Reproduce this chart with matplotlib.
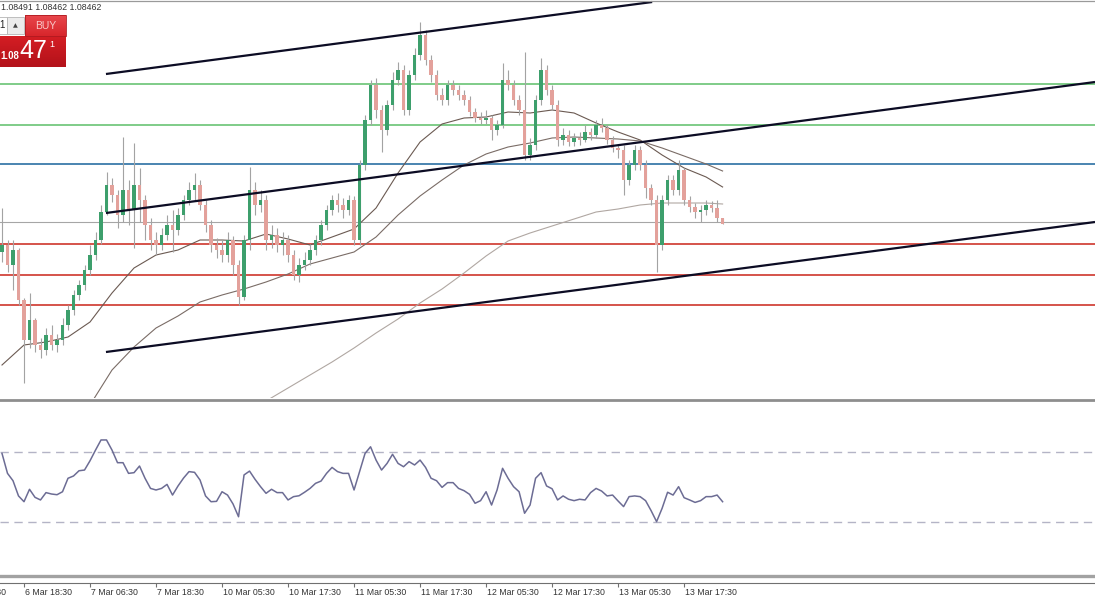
import numpy as np
import matplotlib
matplotlib.use('Agg')
import matplotlib.pyplot as plt
from matplotlib.lines import Line2D
from matplotlib.patches import Rectangle
from matplotlib.colors import LinearSegmentedColormap

# EURUSD H1 candles (6 Mar .. 13 Mar)
first_open = 1.08320
closes = [1.08355, 1.08255, 1.08330, 1.08080, 1.07880, 1.07980, 1.07855, 1.07830, 1.07905, 1.07855,
          1.07880, 1.07955, 1.08030, 1.08105, 1.08155, 1.08230, 1.08305, 1.08380, 1.08520, 1.08655,
          1.08605, 1.08505, 1.08630, 1.08530, 1.08655, 1.08580, 1.08455, 1.08380, 1.08355, 1.08405,
          1.08455, 1.08430, 1.08505, 1.08580, 1.08630, 1.08655, 1.08555, 1.08455, 1.08355, 1.08330,
          1.08305, 1.08380, 1.08255, 1.08095, 1.08380, 1.08630, 1.08555, 1.08580, 1.08380, 1.08405,
          1.08355, 1.08380, 1.08305, 1.08205, 1.08255, 1.08280, 1.08330, 1.08380, 1.08455, 1.08530,
          1.08580, 1.08555, 1.08530, 1.08580, 1.08380, 1.08755, 1.08980, 1.09155, 1.09030, 1.08930,
          1.09055, 1.09180, 1.09230, 1.09030, 1.09205, 1.09305, 1.09405, 1.09280, 1.09205, 1.09105,
          1.09080, 1.09155, 1.09130, 1.09105, 1.09080, 1.09020, 1.08990, 1.08980, 1.08990, 1.08930,
          1.08955, 1.09180, 1.09155, 1.09080, 1.09030, 1.08805, 1.08855, 1.09080, 1.09230, 1.09130,
          1.09055, 1.08880, 1.08905, 1.08870, 1.08890, 1.08880, 1.08920, 1.08905, 1.08955, 1.08940,
          1.08880, 1.08840, 1.08830, 1.08680, 1.08755, 1.08830, 1.08755, 1.08640, 1.08580, 1.08355,
          1.08580, 1.08680, 1.08630, 1.08730, 1.08580, 1.08545, 1.08520, 1.08530, 1.08555, 1.08540,
          1.08490, 1.08462]
highs = [1.08540, 1.08380, 1.08380, 1.08340, 1.08090, 1.08115, 1.07990, 1.07890, 1.07940, 1.07955,
         1.07910, 1.07990, 1.08055, 1.08130, 1.08180, 1.08255, 1.08355, 1.08420, 1.08555, 1.08720,
         1.08690, 1.08630, 1.08895, 1.08680, 1.08865, 1.08740, 1.08605, 1.08490, 1.08420, 1.08440,
         1.08505, 1.08530, 1.08540, 1.08605, 1.08670, 1.08715, 1.08680, 1.08580, 1.08480, 1.08390,
         1.08380, 1.08420, 1.08400, 1.08280, 1.08405, 1.08745, 1.08670, 1.08630, 1.08605, 1.08455,
         1.08440, 1.08420, 1.08405, 1.08330, 1.08290, 1.08320, 1.08360, 1.08405, 1.08480, 1.08555,
         1.08605, 1.08615, 1.08590, 1.08605, 1.08600, 1.08780, 1.09005, 1.09180, 1.09190, 1.09055,
         1.09080, 1.09220, 1.09270, 1.09255, 1.09230, 1.09340, 1.09470, 1.09430, 1.09305, 1.09230,
         1.09140, 1.09180, 1.09180, 1.09155, 1.09130, 1.09100, 1.09040, 1.09020, 1.09030, 1.09005,
         1.08980, 1.09265, 1.09230, 1.09180, 1.09105, 1.09320, 1.08890, 1.09105, 1.09290, 1.09255,
         1.09155, 1.09080, 1.08940, 1.08930, 1.08915, 1.08920, 1.08955, 1.08940, 1.08980, 1.08990,
         1.08960, 1.08900, 1.08860, 1.08855, 1.08780, 1.08855, 1.08850, 1.08780, 1.08660, 1.08605,
         1.08605, 1.08705, 1.08705, 1.08780, 1.08740, 1.08600, 1.08565, 1.08555, 1.08580, 1.08575,
         1.08580, 1.08491]
lows = [1.08270, 1.08220, 1.08130, 1.08055, 1.07665, 1.07840, 1.07820, 1.07790, 1.07805, 1.07830,
        1.07820, 1.07855, 1.07930, 1.08005, 1.08080, 1.08130, 1.08205, 1.08280, 1.08360, 1.08505,
        1.08570, 1.08440, 1.08470, 1.08455, 1.08340, 1.08470, 1.08380, 1.08330, 1.08305, 1.08330,
        1.08380, 1.08320, 1.08405, 1.08480, 1.08555, 1.08580, 1.08530, 1.08420, 1.08320, 1.08290,
        1.08270, 1.08270, 1.08205, 1.08055, 1.08080, 1.08330, 1.08505, 1.08520, 1.08330, 1.08340,
        1.08320, 1.08305, 1.08270, 1.08180, 1.08170, 1.08230, 1.08255, 1.08305, 1.08355, 1.08430,
        1.08505, 1.08520, 1.08490, 1.08505, 1.08355, 1.08355, 1.08730, 1.08955, 1.08990, 1.08820,
        1.08905, 1.09030, 1.09155, 1.09005, 1.09005, 1.09180, 1.09280, 1.09255, 1.09170, 1.09080,
        1.09055, 1.09055, 1.09105, 1.09080, 1.09055, 1.09000, 1.08970, 1.08960, 1.08960, 1.08880,
        1.08905, 1.08940, 1.09130, 1.09055, 1.09005, 1.08780, 1.08780, 1.08830, 1.09055, 1.09105,
        1.09030, 1.08850, 1.08855, 1.08850, 1.08850, 1.08855, 1.08870, 1.08880, 1.08890, 1.08920,
        1.08860, 1.08820, 1.08790, 1.08605, 1.08655, 1.08730, 1.08730, 1.08590, 1.08555, 1.08220,
        1.08330, 1.08555, 1.08605, 1.08605, 1.08555, 1.08520, 1.08490, 1.08470, 1.08505, 1.08520,
        1.08470, 1.08462]

# moving averages (read at every 4th bar)
fast_idx = [0, 4, 8, 12, 16, 20, 24, 28, 32, 36, 40, 44, 48, 52, 56, 60, 64, 68, 72, 76, 80,
            84, 88, 92, 96, 100, 104, 108, 112, 116, 120, 124, 128, 131]
fast_ma = [1.07755, 1.07855, 1.07870, 1.07895, 1.07970, 1.08115, 1.08240, 1.08305, 1.08330, 1.08380,
           1.08380, 1.08375, 1.08410, 1.08385, 1.08355, 1.08395, 1.08435, 1.08540, 1.08715, 1.08870,
           1.08960, 1.08990, 1.08995, 1.09020, 1.09015, 1.09030, 1.09015, 1.08965, 1.08920, 1.08880,
           1.08805, 1.08740, 1.08695, 1.08645]
mid_idx = [12, 16, 20, 24, 28, 32, 36, 40, 44, 48, 52, 56, 60, 64, 68, 72, 76, 80, 84, 88, 92,
           96, 100, 104, 108, 112, 116, 120, 124, 128, 131]
mid_ma = [1.07380, 1.07555, 1.07730, 1.07845, 1.07940, 1.08000, 1.08070, 1.08105, 1.08135, 1.08170,
          1.08210, 1.08260, 1.08290, 1.08320, 1.08395, 1.08505, 1.08600, 1.08680, 1.08755, 1.08810,
          1.08845, 1.08865, 1.08890, 1.08895, 1.08890, 1.08885, 1.08875, 1.08840, 1.08800, 1.08760,
          1.08725]
slow_idx = [44, 48, 52, 56, 60, 64, 68, 72, 76, 80, 84, 88, 92, 96, 100, 104, 108, 112, 116, 120,
            124, 128, 131]
slow_ma = [1.07510, 1.07575, 1.07640, 1.07705, 1.07770, 1.07840, 1.07915, 1.07985, 1.08065, 1.08135,
           1.08215, 1.08300, 1.08375, 1.08415, 1.08450, 1.08485, 1.08520, 1.08535, 1.08555, 1.08565,
           1.08565, 1.08565, 1.08560]

rsi = [69.2, 57.8, 53.6, 44.9, 41.6, 48.7, 44.1, 42.6, 46.8, 46.0, 45.6, 47.3, 55.0, 56.3, 59.3,
       59.7, 65.0, 71.1, 76.9, 76.9, 71.1, 63.9, 63.9, 57.8, 58.2, 62.0, 55.0, 49.2, 48.3, 49.2,
       51.5, 45.4, 50.6, 55.1, 58.8, 58.4, 54.0, 44.9, 41.6, 41.8, 47.3, 45.4, 40.3, 33.0, 56.9,
       59.1, 54.4, 50.2, 46.4, 48.7, 46.8, 46.8, 42.6, 44.5, 45.0, 47.0, 49.2, 52.1, 53.4, 57.8,
       61.2, 58.8, 57.8, 57.8, 48.3, 58.8, 69.2, 73.0, 65.4, 59.7, 63.5, 68.7, 63.5,
       61.6, 64.5, 62.6, 65.4, 61.2, 55.0, 53.6, 49.8, 52.5, 52.5, 49.2, 47.9, 45.8, 40.7, 42.2,
       47.3, 39.7, 48.3, 60.7, 55.0, 50.2, 47.3, 35.0, 39.7, 55.0, 58.2, 50.6, 49.0, 42.6, 44.9,
       43.0, 42.2, 43.0, 42.6, 46.8, 49.2, 47.7, 44.9, 45.4, 42.0, 38.8, 44.5, 44.9, 44.5, 42.2,
       36.5, 30.2, 37.8, 47.0, 45.4, 50.2, 43.9, 42.6, 41.2, 42.2, 44.5, 44.5, 45.4, 41.6]

green_levels = [1.09160, 1.08955]
blue_level = 1.08760
red_levels = [1.08360, 1.08205, 1.08055]
bid = 1.08471

# trend channel: (bar, price) end points
upper_line = ([18.9, 118.2], [1.09210, 1.09570])
middle_line = ([18.9, 198.7], [1.08515, 1.09170])
lower_line = ([18.9, 198.7], [1.07820, 1.08470])

tick_idx = [-8, 4, 16, 28, 40, 52, 64, 76, 88, 100, 112, 124]
tick_lab = ['6 Mar 06:30', '6 Mar 18:30', '7 Mar 06:30', '7 Mar 18:30', '10 Mar 05:30',
            '10 Mar 17:30', '11 Mar 05:30', '11 Mar 17:30', '12 Mar 05:30', '12 Mar 17:30',
            '13 Mar 05:30', '13 Mar 17:30']

plt.rcParams['font.family'] = ['Liberation Sans', 'DejaVu Sans']

W, H = 1095, 600
fig = plt.figure(figsize=(W / 100, H / 100), dpi=100)
fig.patch.set_facecolor('white')

def fy(px):
    return 1 - px / H

xlim = (-0.364, 198.7)

# ---- price window
ax = fig.add_axes([0, fy(398), 1, 398 / H])
ax.set_xlim(*xlim)
ax.set_ylim(1.0759, 1.0958)
ax.axis('off')

for lv in green_levels:
    ax.axhline(lv, color='#5cbf68', lw=1.1, zorder=1)
ax.axhline(blue_level, color='#2b6fa3', lw=1.2, zorder=1)
for lv in red_levels:
    ax.axhline(lv, color='#d2453d', lw=1.3, zorder=1)
ax.axhline(bid, color='#a6a6a6', lw=0.8, zorder=1)

ax.plot(fast_idx, fast_ma, color='#6b5a52', lw=0.8, zorder=2)
ax.plot(mid_idx, mid_ma, color='#7a6c66', lw=0.8, zorder=2)
ax.plot(slow_idx, slow_ma, color='#b0a7a2', lw=0.8, zorder=2)

o = np.r_[first_open, closes[:-1]]
c = np.array(closes)
idx = np.arange(len(c))
up = c >= o
ax.vlines(idx, lows, highs, color='#a3a3a3', lw=0.8, zorder=3)
ax.bar(idx[up], (c - o)[up] + 0.00002, bottom=o[up] - 0.00001, width=0.6,
       color='#3d9f6c', zorder=4)
ax.bar(idx[~up], (c - o)[~up] - 0.00002, bottom=o[~up] + 0.00001, width=0.6,
       color='#e3a19b', zorder=4)

for xs, ys in (upper_line, middle_line, lower_line):
    ax.plot(xs, ys, color='#0c0c24', lw=1.6, zorder=5, solid_capstyle='butt')
ax.set_xlim(*xlim)

# ---- RSI window
ax2 = fig.add_axes([0, fy(575), 1, 173 / H])
ax2.set_ylim(-0.3, 98.6)
ax2.axis('off')
for lv in (70, 30):
    ax2.axhline(lv, color='#b4b4c6', lw=1.0, dashes=(6, 4))
ax2.plot(idx, rsi, color='#6c6c94', lw=1.1)
ax2.set_xlim(*xlim)

# ---- time scale
ax3 = fig.add_axes([0, 0, 1, 17 / H])
for s in ('left', 'right', 'bottom'):
    ax3.spines[s].set_visible(False)
ax3.spines['top'].set_color('#707070')
ax3.spines['top'].set_linewidth(0.8)
ax3.set_yticks([])
ax3.set_xticks(tick_idx)
ax3.xaxis.tick_top()
ax3.tick_params(axis='x', direction='in', length=3, width=0.8, color='#707070',
                labeltop=False, labelbottom=False)
ax3.set_xlim(*xlim)
ax3.set_ylim(0, 1)
for i, lab in zip(tick_idx, tick_lab):
    ax3.text(i + 0.2, 0.45, lab, fontsize=6.3, color='#333333', ha='left', va='center')

# panel separators
fig.add_artist(Line2D([0, 1], [fy(1), fy(1)], color='#9a9a9a', lw=0.9, transform=fig.transFigure))
fig.add_artist(Line2D([0, 1], [fy(399.5), fy(399.5)], color='#8e8e8e', lw=2.0, transform=fig.transFigure))
fig.add_artist(Line2D([0, 1], [fy(576), fy(576)], color='#a2a2a2', lw=2.4, transform=fig.transFigure))

# ---- header text and one-click trading widget
ov = fig.add_axes([0, 0, 1, 1], zorder=10)
ov.patch.set_alpha(0)
ov.axis('off')
ov.text(1, 8, '1.08491 1.08462 1.08462', fontsize=6.3, color='#333333', ha='left', va='center')

ov.add_patch(Rectangle((-1, 17), 8, 17, facecolor='white', edgecolor='#b5b5b5', lw=0.6))
ov.text(4.5, 25.5, '1', fontsize=7, color='#222222', ha='right', va='center')
ov.add_patch(Rectangle((7, 17), 17, 17, facecolor='#ececec', edgecolor='#b5b5b5', lw=0.6))
ov.text(15.5, 25.5, '\u25b2', fontsize=4.5, color='#444444', ha='center', va='center',
        family='DejaVu Sans')

red_top = LinearSegmentedColormap.from_list('rt', ['#e8474c', '#d8262c'])
red_bot = LinearSegmentedColormap.from_list('rb', ['#d41e24', '#b3121a'])
grad = np.linspace(0, 1, 40).reshape(-1, 1)
ov.imshow(grad, cmap=red_top, extent=(25, 66, 36, 15), aspect='auto', zorder=1)
ov.imshow(grad, cmap=red_bot, extent=(0, 66, 67, 36), aspect='auto', zorder=1)
ov.add_patch(Rectangle((25, 15), 41, 21, fill=False, edgecolor='#b01a20', lw=0.6, zorder=2))
ov.text(45.5, 26, 'BUY', fontsize=7.5, color='#f9c9c9', ha='center', va='center', zorder=3)
ov.text(0.5, 56, '1.08', fontsize=7, color='white', ha='left', va='center',
        fontweight='bold', zorder=3)
ov.text(33, 51, '47', fontsize=18, color='white', ha='center', va='center', zorder=3)
ov.text(51.5, 44.5, '1', fontsize=6.5, color='white', ha='center', va='center', zorder=3)
ov.set_xlim(0, W)
ov.set_ylim(H, 0)

fig.savefig('out.png', dpi=100, facecolor='white')
